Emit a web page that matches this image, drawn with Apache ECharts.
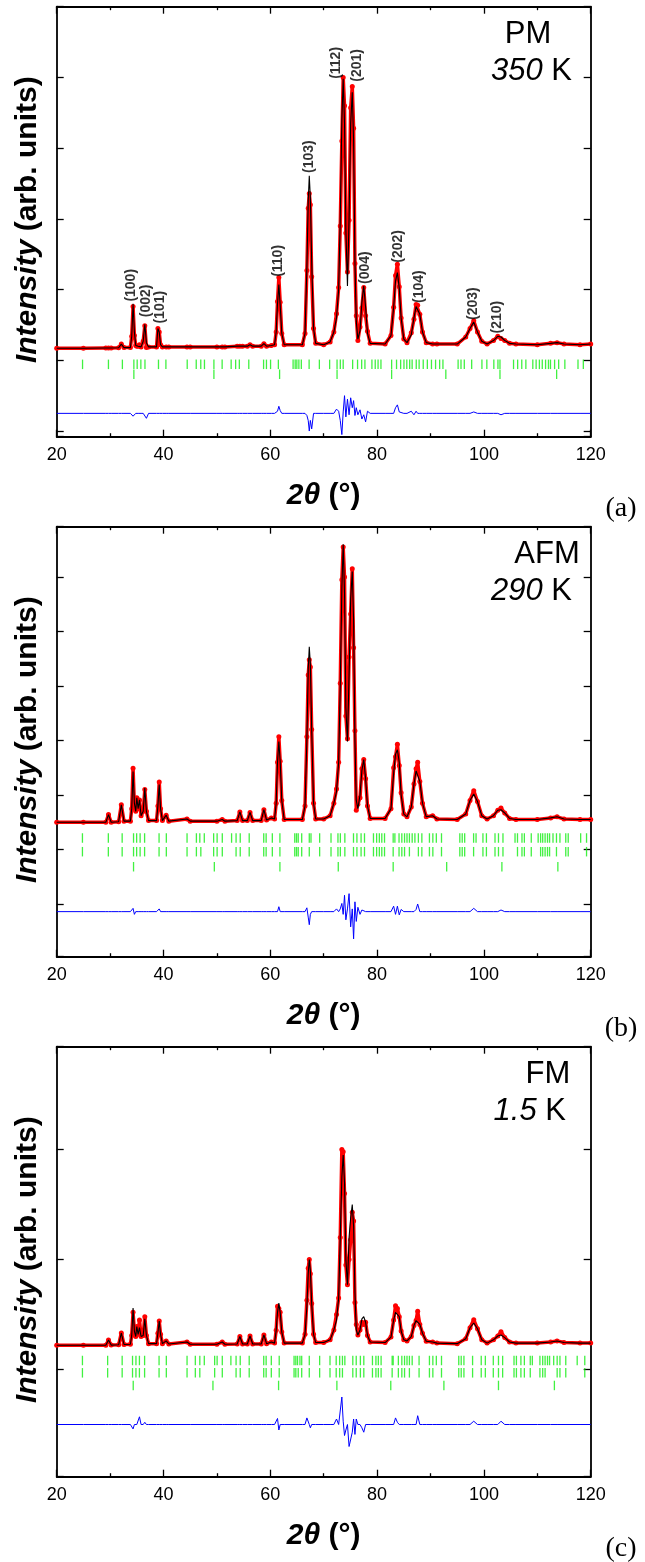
<!DOCTYPE html>
<html><head><meta charset="utf-8">
<script src="https://cdn.jsdelivr.net/npm/echarts@6/dist/echarts.min.js"></script>
<style>html,body{margin:0;padding:0;background:#fff}#c{width:645px;height:1562px}</style>
</head><body><div id="c"></div><script>
// ---------- DATA ----------
const twoTheta = [
20,25,29.2,29.7,30.2,31.6,32.1,32.6,33.8,34.05,
34.3,34.55,34.8,35.0,35.25,35.5,35.8,36.2,36.5,36.8,
37.2,38.7,38.95,39.2,39.45,39.8,40.5,41.0,44.4,45,
50,51,51.5,53.8,54.3,54.8,55.7,56.2,56.7,58.3,
58.8,59.3,60.2,60.8,61.1,61.35,61.6,61.85,62.15,62.6,
66.0,66.5,66.85,67.1,67.3,67.5,67.75,68.1,68.5,70.0,
71.2,71.9,72.4,72.8,73.1,73.4,73.65,73.9,74.15,74.45,
74.75,75.05,75.35,75.6,75.85,76.1,76.4,76.8,77.15,77.5,
77.85,78.2,78.7,81.5,82.6,83.1,83.45,83.8,84.15,84.5,
85.0,85.6,86.4,86.9,87.3,87.6,88.0,88.5,89.2,90.4,
91.2,95,96.6,97.4,98.1,98.8,99.6,100.6,101.8,102.6,
103.2,103.9,104.8,106,110,112.5,113.7,115,118,120];

// (a) PM 350 K : calculated profile and difference (obs - calc)
const calcPM = [
1.17,1.17,1.175,1.175,1.175,1.178,1.23,1.18,1.18,1.34,
1.80,1.40,1.21,1.20,1.20,1.22,1.19,1.27,1.51,1.25,
1.19,1.19,1.45,1.40,1.22,1.19,1.19,1.19,1.19,1.19,
1.19,1.19,1.19,1.20,1.20,1.20,1.20,1.22,1.20,1.20,
1.235,1.20,1.21,1.22,1.40,1.80,2.07,1.78,1.38,1.22,
1.22,1.38,2.30,3.25,3.61,3.30,2.40,1.45,1.24,1.22,
1.26,1.40,1.60,2.00,3.00,4.40,4.98,4.35,2.85,2.05,
3.00,4.35,4.79,4.10,2.40,1.55,1.30,1.42,1.82,2.05,
1.75,1.38,1.24,1.23,1.35,1.75,2.12,2.24,2.02,1.60,
1.30,1.25,1.36,1.60,1.76,1.78,1.65,1.40,1.25,1.23,
1.23,1.23,1.33,1.45,1.54,1.40,1.27,1.23,1.28,1.34,
1.33,1.28,1.24,1.23,1.22,1.24,1.25,1.23,1.22,1.23];
const diffPM = [
0,0,0,0,0,0,0,0,0,0,
-0.04,-0.05,0,0,0,0,0,0,-0.02,-0.07,
0,0,0,0,0,0,0,0,0,0,
0,0,0,0,0,0,0,0,0,0,
0,0,0,0,0,0.03,0.10,0.04,0,0,
0,0,-0.03,-0.1,-0.25,-0.1,-0.22,0,0,0,
0,0,0.06,0.03,-0.1,-0.3,0.02,0.25,-0.05,0.2,
-0.02,0.22,0.08,0.18,-0.03,0.08,-0.02,0.05,-0.08,-0.02,
-0.12,0.03,0,0,0,0,0.08,0.12,0.02,0,
0,0,0.03,-0.02,0.03,0,0,0,0,0,
0,0,0,0,0.02,0,0,0,0,0,
-0.02,0,0,0,0,0,0,0,0,0];

// (b) AFM 290 K
const calcAFM = [
2.50,2.50,2.50,2.64,2.50,2.51,2.82,2.52,2.52,2.75,
3.43,2.85,2.70,2.95,2.75,2.91,2.62,2.70,3.13,2.70,
2.53,2.53,2.80,3.19,2.75,2.53,2.63,2.52,2.56,2.52,
2.52,2.55,2.52,2.53,2.69,2.53,2.53,2.68,2.53,2.53,
2.73,2.54,2.58,2.56,2.85,3.60,3.98,3.62,2.90,2.55,
2.55,2.80,4.00,5.30,5.72,5.40,4.20,2.85,2.56,2.56,
2.62,2.85,3.06,3.60,5.00,6.80,7.60,6.70,4.60,3.98,
5.20,6.60,7.10,6.20,4.00,2.90,2.75,3.00,3.45,3.65,
3.30,2.80,2.57,2.57,2.75,3.40,3.75,3.83,3.60,3.00,
2.65,2.60,2.78,3.20,3.44,3.46,3.25,2.85,2.60,2.62,
2.56,2.55,2.65,2.90,3.02,2.88,2.62,2.56,2.62,2.72,
2.73,2.67,2.57,2.55,2.55,2.58,2.60,2.56,2.55,2.55];
const diffAFM = [
0,0,0,0,0,0,0,0,0,0,
0.06,-0.05,0,0,0,0,0,0,-0.03,0,
0,0,0,0.05,0,0,0,0,0,0,
0,0,0,0,0,0,0,0,0,0,
0,0,0,0,0,0,0.09,0,0,0,
0,0,0.07,-0.1,-0.24,-0.05,0,0,0,0,
0,0,0.05,0,0.05,0.15,-0.05,0.3,-0.15,0.05,
0.33,-0.28,0.05,-0.5,0.18,-0.18,0.08,-0.05,0.03,0,
0,0,0,0,0,0.1,-0.05,0.1,-0.06,0.04,
0,0,0,0,0.04,0.14,0,0,0,0,
0,0,0,0,0.06,0,0,0,0,0,
0.03,0,0,0,0,0,0,0,0,0];

// (c) FM 1.5 K
const calcFM = [
1.22,1.22,1.22,1.268,1.222,1.225,1.332,1.228,1.23,1.31,
1.56,1.35,1.30,1.39,1.32,1.38,1.30,1.31,1.46,1.31,
1.235,1.235,1.33,1.44,1.32,1.235,1.26,1.232,1.25,1.23,
1.23,1.25,1.23,1.232,1.30,1.232,1.232,1.305,1.232,1.232,
1.314,1.235,1.25,1.24,1.356,1.52,1.604,1.52,1.34,1.24,
1.24,1.32,1.57,1.87,2.00,1.90,1.60,1.32,1.245,1.245,
1.27,1.36,1.45,1.65,2.20,2.75,2.95,2.70,2.00,1.77,
2.20,2.38,2.50,2.30,1.70,1.36,1.314,1.36,1.46,1.48,
1.43,1.31,1.25,1.245,1.295,1.45,1.52,1.535,1.48,1.35,
1.27,1.26,1.30,1.40,1.445,1.45,1.41,1.33,1.257,1.25,
1.24,1.235,1.28,1.38,1.423,1.37,1.27,1.24,1.27,1.305,
1.314,1.29,1.25,1.24,1.24,1.25,1.26,1.245,1.24,1.24];
const diffFM = [
0,0,0,0,0,0,0,0,0,0,
-0.04,0,0,0,0,0.07,0,0,0.02,0,
0,0,0,0,0,0,0,0,0,0,
0,0,0,0,0,0,0,0,0,0,
0,0,0,0,0,0.055,-0.05,0,0,0,
0,0,0.06,0.05,0,-0.03,0,0,0,0,
0,0,0.05,0,0,0.25,0.03,-0.1,-0.05,0,
-0.2,-0.2,-0.07,0.05,-0.09,0.05,0,0,-0.03,-0.07,
0,0,0,0,0,0,0.06,0.02,0,0,
0,0,0,0,0,0.08,0,0,0,0,
0,0,0,0,0.03,0,0,0,0,0,
0.03,0,0,0,0,0,0,0,0,0];

// Bragg reflection positions (2theta)
const braggPM1 = [24.84,29.69,32.30,34.45,35.07,35.76,36.53,39.06,40.45,44.44,46.13,46.98,47.67,49.44,50.98,52.67,53.51,54.20,55.97,58.74,59.28,60.05,61.51,64.27,64.66,64.97,65.35,65.81,67.27,69.19,71.11,72.50,73.11,73.65,75.42,76.34,77.11,77.72,79.03,79.65,80.18,80.72,82.72,83.64,84.41,85.03,85.56,86.10,86.56,87.33,87.87,88.64,89.41,90.18,90.95,91.71,92.33,95.17,95.71,96.33,97.71,99.63,100.55,101.86,102.63,103.01,105.55,106.32,107.09,107.86,109.16,109.78,110.39,110.93,111.55,112.09,112.47,113.24,114.0,115.16,117.62,118.62];
const braggPM2 = [34.45,49.44,61.74,72.50,82.72,92.87,103.01,113.62];
const braggAFM1 = [24.82,29.67,32.26,34.39,34.97,35.62,36.46,39.17,40.53,44.41,46.16,46.80,47.64,49.39,50.04,51.01,52.75,53.59,54.37,56.05,58.77,59.22,60.38,61.80,64.58,64.91,65.23,65.88,67.30,67.62,69.24,71.37,72.67,73.12,73.96,75.58,76.22,77.00,77.64,79.32,79.91,80.42,80.88,81.39,83.01,83.33,84.11,84.63,85.14,85.60,86.05,86.57,87.08,87.73,88.38,89.80,90.44,91.09,92.06,95.49,95.94,96.40,98.07,98.53,99.82,100.47,102.08,102.73,103.57,105.83,106.29,107.13,107.58,108.87,110.16,110.62,111.01,111.46,111.91,112.30,112.94,113.59,114.24,115.33,115.79,118.12,119.22];
const braggAFM2 = [24.82,29.67,32.26,34.39,34.97,35.62,36.46,39.17,40.53,44.41,46.16,46.99,49.39,50.04,51.01,53.59,54.37,56.05,58.77,59.22,60.38,61.80,64.58,64.91,65.23,65.88,67.30,69.24,71.37,72.67,73.12,73.96,75.58,76.22,77.00,77.64,79.32,79.91,80.42,80.88,81.39,83.01,84.11,84.63,85.14,86.05,87.73,88.38,89.80,90.44,92.06,95.49,95.94,96.40,98.07,99.82,100.47,102.08,102.73,103.57,106.29,107.13,107.58,108.87,110.62,111.01,111.46,111.91,112.30,113.59,115.33,115.79,119.22];
const braggAFM3 = [34.39,49.52,61.80,72.73,83.01,93.03,103.37,113.85];
const braggFM1 = [24.82,29.54,32.26,34.20,34.84,35.49,36.46,39.17,40.53,44.41,45.96,46.80,47.64,49.58,50.04,51.01,52.62,53.59,54.37,56.05,58.77,59.22,60.19,61.67,64.45,64.78,65.10,65.55,65.88,67.30,69.24,71.18,72.34,72.99,73.51,73.96,75.45,76.09,76.87,77.51,79.13,79.78,80.23,80.75,82.82,83.01,83.98,84.63,85.14,85.60,86.05,86.57,87.86,89.80,90.44,91.09,92.06,95.29,95.75,96.26,97.88,99.50,100.27,101.76,102.73,103.51,105.64,106.09,106.93,107.58,108.68,109.07,110.49,111.01,111.46,111.91,112.30,113.07,113.72,114.24,115.33,117.47,118.89];
const braggFM2 = [24.82,29.54,32.26,34.20,34.84,35.49,36.46,39.17,40.53,44.41,45.96,46.80,49.58,51.01,53.59,54.37,56.05,58.77,59.22,60.19,61.67,64.45,64.78,65.23,65.88,67.30,69.24,71.18,72.34,72.99,73.51,75.45,76.09,76.87,77.51,79.13,79.78,80.23,80.75,82.82,83.98,84.63,85.14,86.05,87.86,89.80,90.44,92.06,95.29,95.75,96.26,97.88,99.50,100.27,101.76,102.73,103.51,105.64,106.09,106.93,107.58,108.68,110.49,111.01,111.46,113.72,114.24,115.33,118.89];
const braggFM3 = [34.33,49.26,61.55,72.47,82.56,92.51,102.73,113.20];

// Miller-index labels of panel (a)
const hklLabels = ['(100)','(002)','(101)','(110)','(103)','(112)','(201)','(004)','(202)','(104)','(203)','(210)'];
const hklX = [33.9,36.8,39.4,61.5,67.2,72.4,76.3,77.7,83.9,87.9,97.9,102.5];
const hklY = [1.83,1.61,1.52,2.18,3.65,4.98,4.94,2.08,2.38,1.81,1.57,1.38];

const phaseNames = ['PM','AFM','FM'];
const temperatures = ['350','290','1.5'];
const panelTags = ['(a)','(b)','(c)'];

// ---------- LAYOUT ----------
const FONT = '"Liberation Sans", Arial, Helvetica, sans-serif';
const SERIF = '"Liberation Serif", "Times New Roman", serif';
const GL = 56.7, GW = 534, GH = 430;
const panels = [
  {calc: calcPM, diff: diffPM, bragg: [braggPM1, braggPM2], top: 6.7, yMin: -0.08, yMax: 6.0, split: 6,
   diffOff: 0.25, rowY: [0.943, 0.803], nameX: 528, tempX: 572},
  {calc: calcAFM, diff: diffAFM, bragg: [braggAFM1, braggAFM2, braggAFM3], top: 526.7, yMin: 0.033, yMax: 7.923, split: 8,
   diffOff: 0.86, rowY: [2.211, 1.96, 1.684], nameX: 547, tempX: 572},
  {calc: calcFM, diff: diffFM, bragg: [braggFM1, braggFM2, braggFM3], top: 1046.7, yMin: 0.0255, yMax: 3.935, split: 4,
   diffOff: 0.50, rowY: [1.082, 0.970, 0.855], nameX: 548, tempX: 566}
];

const grid = [], xAxis = [], yAxis = [], series = [], graphic = [];
const axLine = {show: true, onZero: false, lineStyle: {color: '#000', width: 1.8}};
const tickStyle = {color: '#000', width: 1.3};

panels.forEach((p, i) => {
  grid.push({left: GL, top: p.top, width: GW, height: GH});
  const xBase = {type: 'value', gridIndex: i, min: 20, max: 120, interval: 20,
    axisLine: axLine, splitLine: {show: false}, minorSplitLine: {show: false},
    axisTick: {show: true, inside: true, length: 7, lineStyle: tickStyle},
    minorTick: {show: true, splitNumber: 2, length: 3.5, lineStyle: tickStyle}};
  xAxis.push(Object.assign({}, xBase, {position: 'bottom',
    axisLabel: {show: true, fontSize: 18, color: '#000', fontFamily: FONT, margin: 9}}));
  xAxis.push(Object.assign({}, xBase, {position: 'top', axisLabel: {show: false}}));
  const yBase = {type: 'value', gridIndex: i, min: p.yMin, max: p.yMax, splitNumber: p.split,
    axisLine: axLine, splitLine: {show: false}, axisLabel: {show: false},
    axisTick: {show: true, inside: true, length: 7, lineStyle: tickStyle}};
  yAxis.push(Object.assign({}, yBase, {position: 'left'}));
  yAxis.push(Object.assign({}, yBase, {position: 'right'}));
  const xi = 2 * i, yi = 2 * i;

  // observed = calculated + difference
  series.push({type: 'line', xAxisIndex: xi, yAxisIndex: yi, z: 2, silent: true,
    data: twoTheta.map((x, j) => [x, p.calc[j] + p.diff[j]]),
    lineStyle: {color: '#ff0000', width: 3.5}, itemStyle: {color: '#ff0000'},
    symbol: 'circle', symbolSize: 5, showSymbol: true, showAllSymbol: true});
  series.push({type: 'line', xAxisIndex: xi, yAxisIndex: yi, z: 3, silent: true,
    data: twoTheta.map((x, j) => [x, p.calc[j]]),
    lineStyle: {color: '#000', width: 1.1}, symbol: 'none'});
  series.push({type: 'line', xAxisIndex: xi, yAxisIndex: yi, z: 3, silent: true,
    data: twoTheta.map((x, j) => [x, p.diffOff + p.diff[j]]),
    lineStyle: {color: '#0000ff', width: 1}, symbol: 'none'});
  p.bragg.forEach((row, r) => {
    series.push({type: 'scatter', xAxisIndex: xi, yAxisIndex: yi, z: 2, silent: true,
      data: row.map(x => [x, p.rowY[r]]), symbol: 'rect', symbolSize: [1.3, 9.5],
      itemStyle: {color: '#11ee11'}});
  });
  if (i === 0) {
    series.push({type: 'scatter', xAxisIndex: xi, yAxisIndex: yi, z: 4, silent: true,
      data: hklX.map((x, j) => [x, hklY[j]]), symbolSize: 0,
      label: {show: true, position: [0, 0], rotate: 90, align: 'left', verticalAlign: 'middle',
        formatter: (q) => hklLabels[q.dataIndex], fontSize: 14, fontWeight: 'bold',
        color: '#000', fontFamily: FONT}});
  }

  const bottom = p.top + GH;
  graphic.push({type: 'text', x: p.nameX, y: p.top + 28, style: {text: phaseNames[i],
    fontSize: 31, fontFamily: FONT, fill: '#000', align: 'center', verticalAlign: 'middle'}});
  graphic.push({type: 'text', x: p.tempX, y: p.top + 65, style: {text: '{it|' + temperatures[i] + '} K',
    fontSize: 31, fontFamily: FONT, fill: '#000', align: 'right', verticalAlign: 'middle',
    rich: {it: {fontStyle: 'italic', fontSize: 31, fontFamily: FONT, fill: '#000'}}}});
  graphic.push({type: 'text', x: 27.7, y: p.top + 213, rotation: Math.PI / 2, style: {
    text: '{i|Intensity} {b|(arb. units)}', align: 'center', verticalAlign: 'middle',
    fontSize: 30, fontWeight: 'bold', fontFamily: FONT, fill: '#000',
    rich: {i: {fontStyle: 'italic', fontWeight: 'bold', fontSize: 30, fontFamily: FONT},
           b: {fontWeight: 'bold', fontSize: 30, fontFamily: FONT}}}});
  graphic.push({type: 'text', x: GL + GW / 2, y: bottom + 59, style: {
    text: '{i|2θ} {b|(°)}', align: 'center', verticalAlign: 'middle',
    fontSize: 30, fontWeight: 'bold', fontFamily: FONT, fill: '#000',
    rich: {i: {fontStyle: 'italic', fontWeight: 'bold', fontSize: 30, fontFamily: FONT},
           b: {fontWeight: 'bold', fontSize: 30, fontFamily: FONT}}}});
  graphic.push({type: 'text', x: 621, y: bottom + 72, style: {text: panelTags[i],
    fontSize: 28, fontFamily: SERIF, fill: '#000', align: 'center', verticalAlign: 'middle'}});
});

const chart = echarts.init(document.getElementById('c'), null, {renderer: 'canvas', width: 645, height: 1562});
chart.setOption({animation: false, backgroundColor: '#fff', grid, xAxis, yAxis, series, graphic});
</script></body></html>
